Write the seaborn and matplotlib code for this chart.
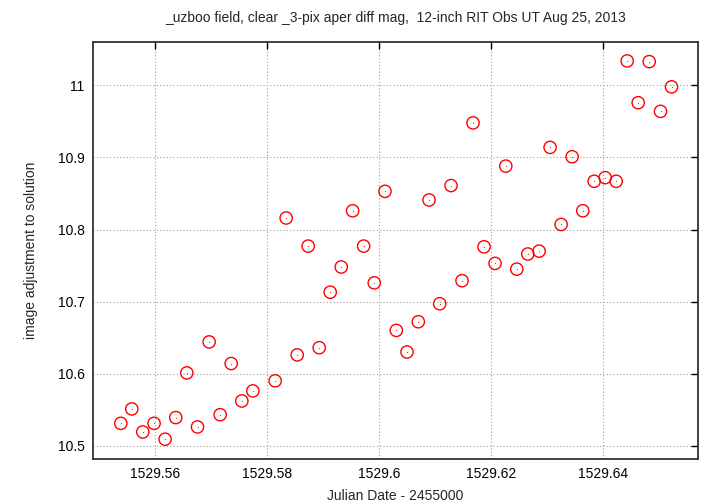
import matplotlib
matplotlib.use('Agg')
import matplotlib.pyplot as plt
import pandas as pd
import seaborn as sns

# Data (JD - 2455000, adjustment in mag)
jd = [1529.55379, 1529.55576, 1529.55773, 1529.55975, 1529.56172, 1529.56363,
      1529.56560, 1529.56752, 1529.56960, 1529.57157, 1529.57354, 1529.57545,
      1529.57742, 1529.58141, 1529.58338, 1529.58535, 1529.58732, 1529.58929,
      1529.59126, 1529.59323, 1529.59527, 1529.59724, 1529.59914, 1529.60106,
      1529.60308, 1529.60500, 1529.60702, 1529.60894, 1529.61085, 1529.61287,
      1529.61484, 1529.61681, 1529.61878, 1529.62075, 1529.62267, 1529.62464,
      1529.62661, 1529.62863, 1529.63060, 1529.63257, 1529.63454, 1529.63645,
      1529.63848, 1529.64045, 1529.64242, 1529.64439, 1529.64636, 1529.64833,
      1529.65035, 1529.65232]
adjust = [10.531, 10.551, 10.519, 10.531, 10.509, 10.539, 10.601, 10.526,
          10.644, 10.543, 10.614, 10.562, 10.576, 10.590, 10.816, 10.626,
          10.777, 10.636, 10.713, 10.748, 10.826, 10.777, 10.726, 10.853,
          10.660, 10.630, 10.672, 10.841, 10.697, 10.861, 10.729, 10.948,
          10.776, 10.753, 10.888, 10.745, 10.766, 10.770, 10.914, 10.807,
          10.901, 10.826, 10.867, 10.872, 10.867, 11.034, 10.976, 11.033,
          10.964, 10.998]

x_ticks = [1529.56, 1529.58, 1529.60, 1529.62, 1529.64]
x_tick_labels = ['1529.56', '1529.58', '1529.6', '1529.62', '1529.64']
y_ticks = [10.5, 10.6, 10.7, 10.8, 10.9, 11.0]
y_tick_labels = ['10.5', '10.6', '10.7', '10.8', '10.9', '11']

df = pd.DataFrame({'jd': jd, 'adjust': adjust})

sns.set_style('white')
plt.rcParams['font.family'] = ['Liberation Sans', 'DejaVu Sans']

fig = plt.figure(figsize=(7.2, 5.04), dpi=100)
ax = fig.add_axes([0.129, 0.090, 0.840, 0.827])

# open red circles with the little centre dot gnuplot draws
sns.scatterplot(data=df, x='jd', y='adjust', ax=ax, marker='o', s=78,
                fc='none', ec='red', linewidth=1.0, zorder=3)
sns.scatterplot(data=df, x='jd', y='adjust', ax=ax, marker='o', s=0.6,
                color='red', linewidth=0, zorder=4)

ax.set_xlim(1529.5488, 1529.657)
ax.set_ylim(10.482, 11.0605)
ax.set_xticks(x_ticks)
ax.set_xticklabels(x_tick_labels)
ax.set_yticks(y_ticks)
ax.set_yticklabels(y_tick_labels)

ax.grid(True, color='#a0a0a0', linestyle=(0, (1, 2)), linewidth=0.8)
ax.tick_params(direction='in', length=5, width=1, top=True, right=True,
               labelsize=10, colors='black', pad=6)
for sp in ax.spines.values():
    sp.set_color('#333333')
    sp.set_linewidth(1.3)

ax.set_title('_uzboo field, clear _3-pix aper diff mag,  12-inch RIT Obs UT Aug 25, 2013',
             fontsize=10, pad=14)
ax.set_xlabel('Julian Date - 2455000', fontsize=10, labelpad=6)
ax.set_ylabel('image adjustment to solution', fontsize=10, labelpad=14)

fig.savefig('out.png', dpi=100)
